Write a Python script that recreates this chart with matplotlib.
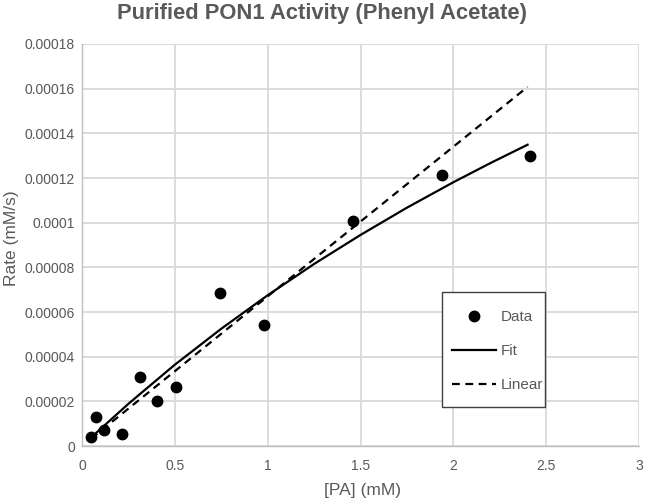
import matplotlib
matplotlib.use("Agg")
import matplotlib.pyplot as plt
from matplotlib.patches import Rectangle

# Data
pa_mM = [0.048, 0.074, 0.12, 0.215, 0.31, 0.406, 0.504, 0.743, 0.982, 1.459, 1.939, 2.414]
rate = [4.0e-6, 1.3e-5, 7.0e-6, 5.5e-6, 3.08e-5, 2.03e-5, 2.64e-5, 6.85e-5, 5.42e-5, 1.006e-4, 1.215e-4, 1.30e-4]

fit_x = [0.05, 0.25, 0.5, 0.75, 1.0, 1.25, 1.5, 1.75, 2.0, 2.2, 2.4]
fit_y = [3.9e-6, 1.89e-5, 3.64e-5, 5.25e-5, 6.75e-5, 8.15e-5, 9.45e-5, 1.067e-4, 1.181e-4, 1.267e-4, 1.349e-4]

lin_x = [0.05, 2.4]
lin_y = [3.35e-6, 1.608e-4]

xticks = [0, 0.5, 1, 1.5, 2, 2.5, 3]
xticklabels = ["0", "0.5", "1", "1.5", "2", "2.5", "3"]
yticks = [0, 0.00002, 0.00004, 0.00006, 0.00008, 0.0001, 0.00012, 0.00014, 0.00016, 0.00018]
yticklabels = ["0", "0.00002", "0.00004", "0.00006", "0.00008", "0.0001", "0.00012", "0.00014", "0.00016", "0.00018"]

plt.rcParams['font.family'] = ['Liberation Sans', 'DejaVu Sans']
txt = '#595959'

fig = plt.figure(figsize=(6.45, 5.0), dpi=100)
ax = fig.add_axes([82/645, 54/500, 557/645, 402/500])

ax.plot(pa_mM, rate, 'o', color='black', markersize=7.5, label='Data', zorder=4)
ax.plot(fit_x, fit_y, '-', color='black', linewidth=1.6, label='Fit', zorder=3)
ax.plot(lin_x, lin_y, '--', color='black', linewidth=1.6, dashes=(3.5, 2.5), label='Linear', zorder=3)

ax.set_xlim(0, 3)
ax.set_ylim(0, 0.00018)
ax.set_xticks(xticks)
ax.set_xticklabels(xticklabels)
ax.set_yticks(yticks)
ax.set_yticklabels(yticklabels)
ax.tick_params(axis='x', length=0, labelsize=10, labelcolor=txt, pad=9)
ax.tick_params(axis='y', length=0, labelsize=10, labelcolor=txt, pad=5)
ax.grid(True, color='#d9d9d9', linewidth=1.3)
ax.set_axisbelow(True)
for s in ['top', 'right']:
    ax.spines[s].set_visible(False)
for s in ['left', 'bottom']:
    ax.spines[s].set_color('#bfbfbf')
    ax.spines[s].set_linewidth(1.0)

fig.text(362/645, 1 - 490/500, '[PA] (mM)', fontsize=12.5, color=txt, ha='center', va='center')
fig.text(12/645, 1 - 238/500, 'Rate (mM/s)', fontsize=12.5, color=txt, ha='center', va='center', rotation=90)
fig.text(322/645, 1 - 14/500, 'Purified PON1 Activity (Phenyl Acetate)', fontsize=15.8,
         fontweight='bold', color=txt, ha='center', va='center')

# legend box
box = Rectangle((442/645, 1 - 407/500), 103/645, 115/500, transform=fig.transFigure,
                facecolor='white', edgecolor='#404040', linewidth=1.0, zorder=5, clip_on=False)
ax.add_artist(box)
leg = ax.legend(loc='upper left', bbox_to_anchor=((452-82)/557, (446-310)/402), frameon=False,
                fontsize=11, labelspacing=1.32, borderpad=0,
                handlelength=2.9, handletextpad=0.3, borderaxespad=0)
leg.set_zorder(6)
for t in leg.get_texts():
    t.set_color(txt)

fig.savefig('out.png', dpi=100)
